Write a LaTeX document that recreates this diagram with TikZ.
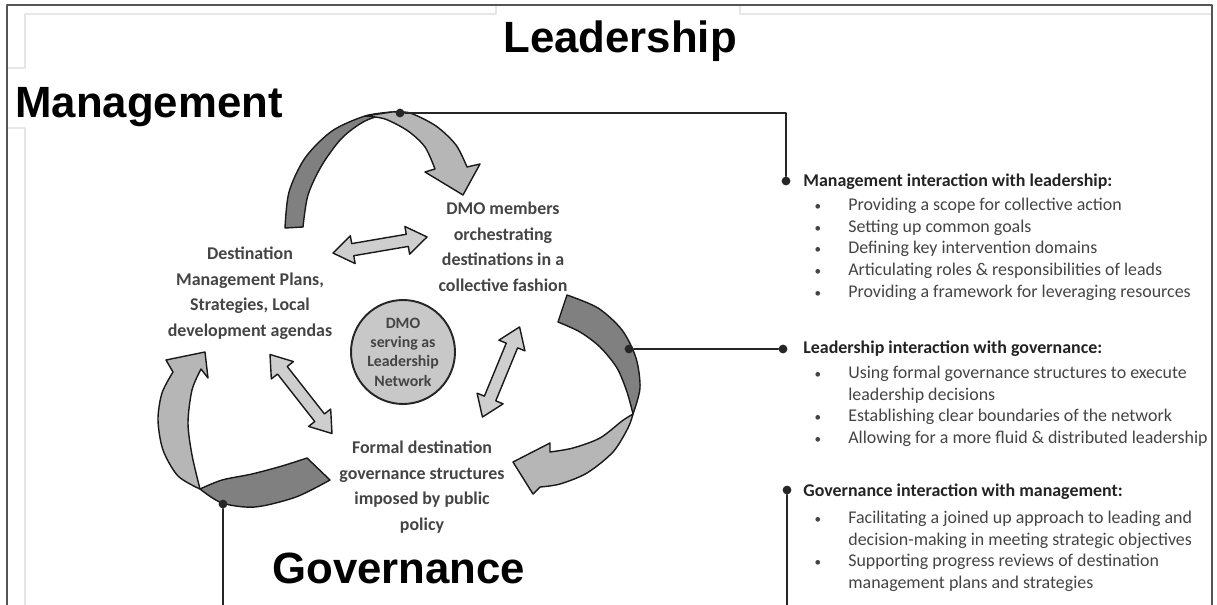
\documentclass[tikz,border=0pt]{standalone}
\usepackage{fontspec}
\setmainfont{Carlito}
\newfontfamily\titlefont{Liberation Sans}
\usetikzlibrary{shapes.arrows}

\definecolor{bandDark}{RGB}{128,128,128}
\definecolor{bandLight}{RGB}{182,182,182}
\definecolor{linkGray}{RGB}{206,206,206}
\definecolor{hubGray}{RGB}{200,200,200}
\definecolor{frameGray}{RGB}{85,85,85}
\definecolor{faintGray}{RGB}{230,230,230}
\definecolor{bodyText}{RGB}{68,68,68}
\definecolor{headText}{RGB}{35,35,35}

\tikzset{
  title/.style={font=\titlefont\bfseries\fontsize{24.9}{28}\selectfont, anchor=base west, inner sep=0pt},
  block/.style={font=\bfseries\fontsize{10.2}{14.5}\selectfont, text=bodyText, align=center, anchor=north, inner sep=0pt},
  head/.style={font=\bfseries\fontsize{10.2}{12.5}\selectfont, text=headText, anchor=base west, inner sep=0pt},
  item/.style={font=\fontsize{10.2}{12.5}\selectfont, text=bodyText, anchor=base west, inner sep=0pt},
  bul/.style={font=\fontsize{7.5}{9}\selectfont, text=bodyText, anchor=base, inner sep=0pt},
  link/.style={double arrow, draw=black!90, fill=linkGray, line width=0.8pt, inner sep=3.1pt,
    double arrow head extend=4.5pt, double arrow tip angle=70, minimum height=#1},
  ribbon/.style={draw=black!90, line width=0.8pt, line join=round},
  hub/.style={circle, draw=black!85, fill=hubGray, line width=1.1pt, minimum size=2.08cm, inner sep=0pt,
    align=center, text=bodyText, font=\bfseries\fontsize{9}{11}\selectfont},
  dot/.style={circle, fill=black!85, inner sep=0pt, minimum size=5pt},
  conn/.style={black!85, line width=1.1pt}
}

\begin{document}
\begin{tikzpicture}[line cap=round,line join=round,x=0.02cm,y=-0.02cm]
\useasboundingbox (0,0) rectangle (1217,605);
\fill[white] (0,0) rectangle (1217,605);
% frame and screen edges
\draw[faintGray, line width=1pt] (7,68) -- (25,68) -- (25,14) -- (496,14) -- (496,5);
\draw[faintGray, line width=1pt] (740,5) -- (740,14) -- (1212,14);
\draw[faintGray, line width=1pt] (7,128) -- (25,128) -- (25,605);
\draw[frameGray, line width=0.8pt] (7,607) -- (7,5) -- (1212,5) -- (1212,607);

% titles
\node[title] (lead) at (503,52) {Leadership};
\node[title] (mgmt) at (15,117) {Management};
\node[title] (gov) at (272,583) {Governance};

% top ribbon
\draw[ribbon, fill=bandDark] plot[smooth] coordinates {(285,228) (289,192) (305,158) (332,131) (365,116) (392,112)}
  -- plot[smooth] coordinates {(392,112) (365,121) (342,138) (322,165) (308,195) (303,227)} -- cycle;
\draw[ribbon, fill=bandLight] plot[smooth] coordinates {(392,112) (410,113) (436,126) (456,145) (467,167)}
  -- (480,164) -- (463,195) -- (425,172) -- (435,169)
  -- plot[smooth] coordinates {(435,169) (425,147) (408,131) (385,119) (365,116)} -- cycle;
% right ribbon
\draw[ribbon, fill=bandDark] plot[smooth] coordinates {(567,295) (598,308) (622,330) (636,358) (640,388) (633,414)}
  -- plot[smooth] coordinates {(633,414) (627,392) (617,368) (600,347) (580,332) (558,322)} -- cycle;
\draw[ribbon, fill=bandLight] plot[smooth] coordinates {(633,414) (628,428) (613,452) (587,473) (560,484) (540,487)}
  -- (533,494) -- (513,462) -- (550,443) -- (550,452)
  -- plot[smooth] coordinates {(550,452) (573,448) (600,438) (622,421) (633,414)} -- cycle;
% left ribbon
\draw[ribbon, fill=bandDark] plot[smooth] coordinates {(330,480) (296,497) (255,507) (222,503) (200,489)}
  -- plot[smooth] coordinates {(200,489) (222,480) (252,474) (282,466) (307,458)} -- cycle;
\draw[ribbon, fill=bandLight] plot[smooth] coordinates {(200,489) (178,476) (163,450) (158,420) (162,393) (173,372)}
  -- (166,360) -- (205,352) -- (208,378) -- (201,369)
  -- plot[smooth] coordinates {(201,369) (192,390) (188,423) (192,455) (200,489)} -- cycle;

% texts of the cycle
\node[block] (plans) at (250,247) {Destination\\Management Plans,\\Strategies, Local\\development agendas};
\node[block] (members) at (503,202) {DMO members\\orchestrating\\destinations in a\\collective fashion};
\node[block] (formal) at (422,441) {Formal destination\\governance structures\\imposed by public\\policy};
\node[hub] (hub) at (403,352) {DMO\\serving as\\Leadership\\Network};

% links
\node[link=1.91cm, rotate=9.7] (link1) at (380,245) {};
\node[link=2.01cm, rotate=-51.9] (link2) at (301,394) {};
\node[link=1.95cm, rotate=67.6] (link3) at (501,372) {};

% connectors
\node[dot] (t0) at (400,113) {};
\node[dot] (d1) at (786,181) {};
\draw[conn] (t0) -| (d1);
\node[dot] (r0) at (629,349) {};
\node[dot] (d2) at (783,349) {};
\draw[conn] (r0) -- (d2);
\node[dot] (b0) at (223,504) {};
\coordinate (b0end) at (223,607);
\draw[conn] (b0) -- (b0end);
\node[dot] (d3) at (787,490) {};
\coordinate (d3end) at (787,607);
\draw[conn] (d3) -- (d3end);

% management with leadership
\node[head] (h1) at (803,186) {Management interaction with leadership:};
\foreach \y/\t [count=\k] in {210/Providing a scope for collective action, 232/Setting up common goals,
  253.5/Defining key intervention domains, 275.5/Articulating roles \& responsibilities of leads,
  297/Providing a framework for leveraging resources}{
  \node[bul] (mb\k) at (818,\y) {\textbullet};
  \node[item] (ml\k) at (848,\y) {\t};
}
% leadership with governance
\node[head] (h2) at (803,353) {Leadership interaction with governance:};
\node[bul] (lb1) at (818,378) {\textbullet};
\node[item] (ll1) at (848,378) {Using formal governance structures to execute};
\node[item] (ll2) at (848,400) {leadership decisions};
\node[bul] (lb2) at (818,421.5) {\textbullet};
\node[item] (ll3) at (848,421.5) {Establishing clear boundaries of the network};
\node[bul] (lb3) at (818,443) {\textbullet};
\node[item] (ll4) at (848,443) {Allowing for a more fluid \& distributed leadership};
% governance with management
\node[head] (h3) at (803,496) {Governance interaction with management:};
\node[bul] (gb1) at (818,523) {\textbullet};
\node[item] (gl1) at (848,523) {Facilitating a joined up approach to leading and};
\node[item] (gl2) at (848,545) {decision-making in meeting strategic objectives};
\node[bul] (gb2) at (818,566.5) {\textbullet};
\node[item] (gl3) at (848,566.5) {Supporting progress reviews of destination};
\node[item] (gl4) at (848,588) {management plans and strategies};
\end{tikzpicture}
\end{document}
